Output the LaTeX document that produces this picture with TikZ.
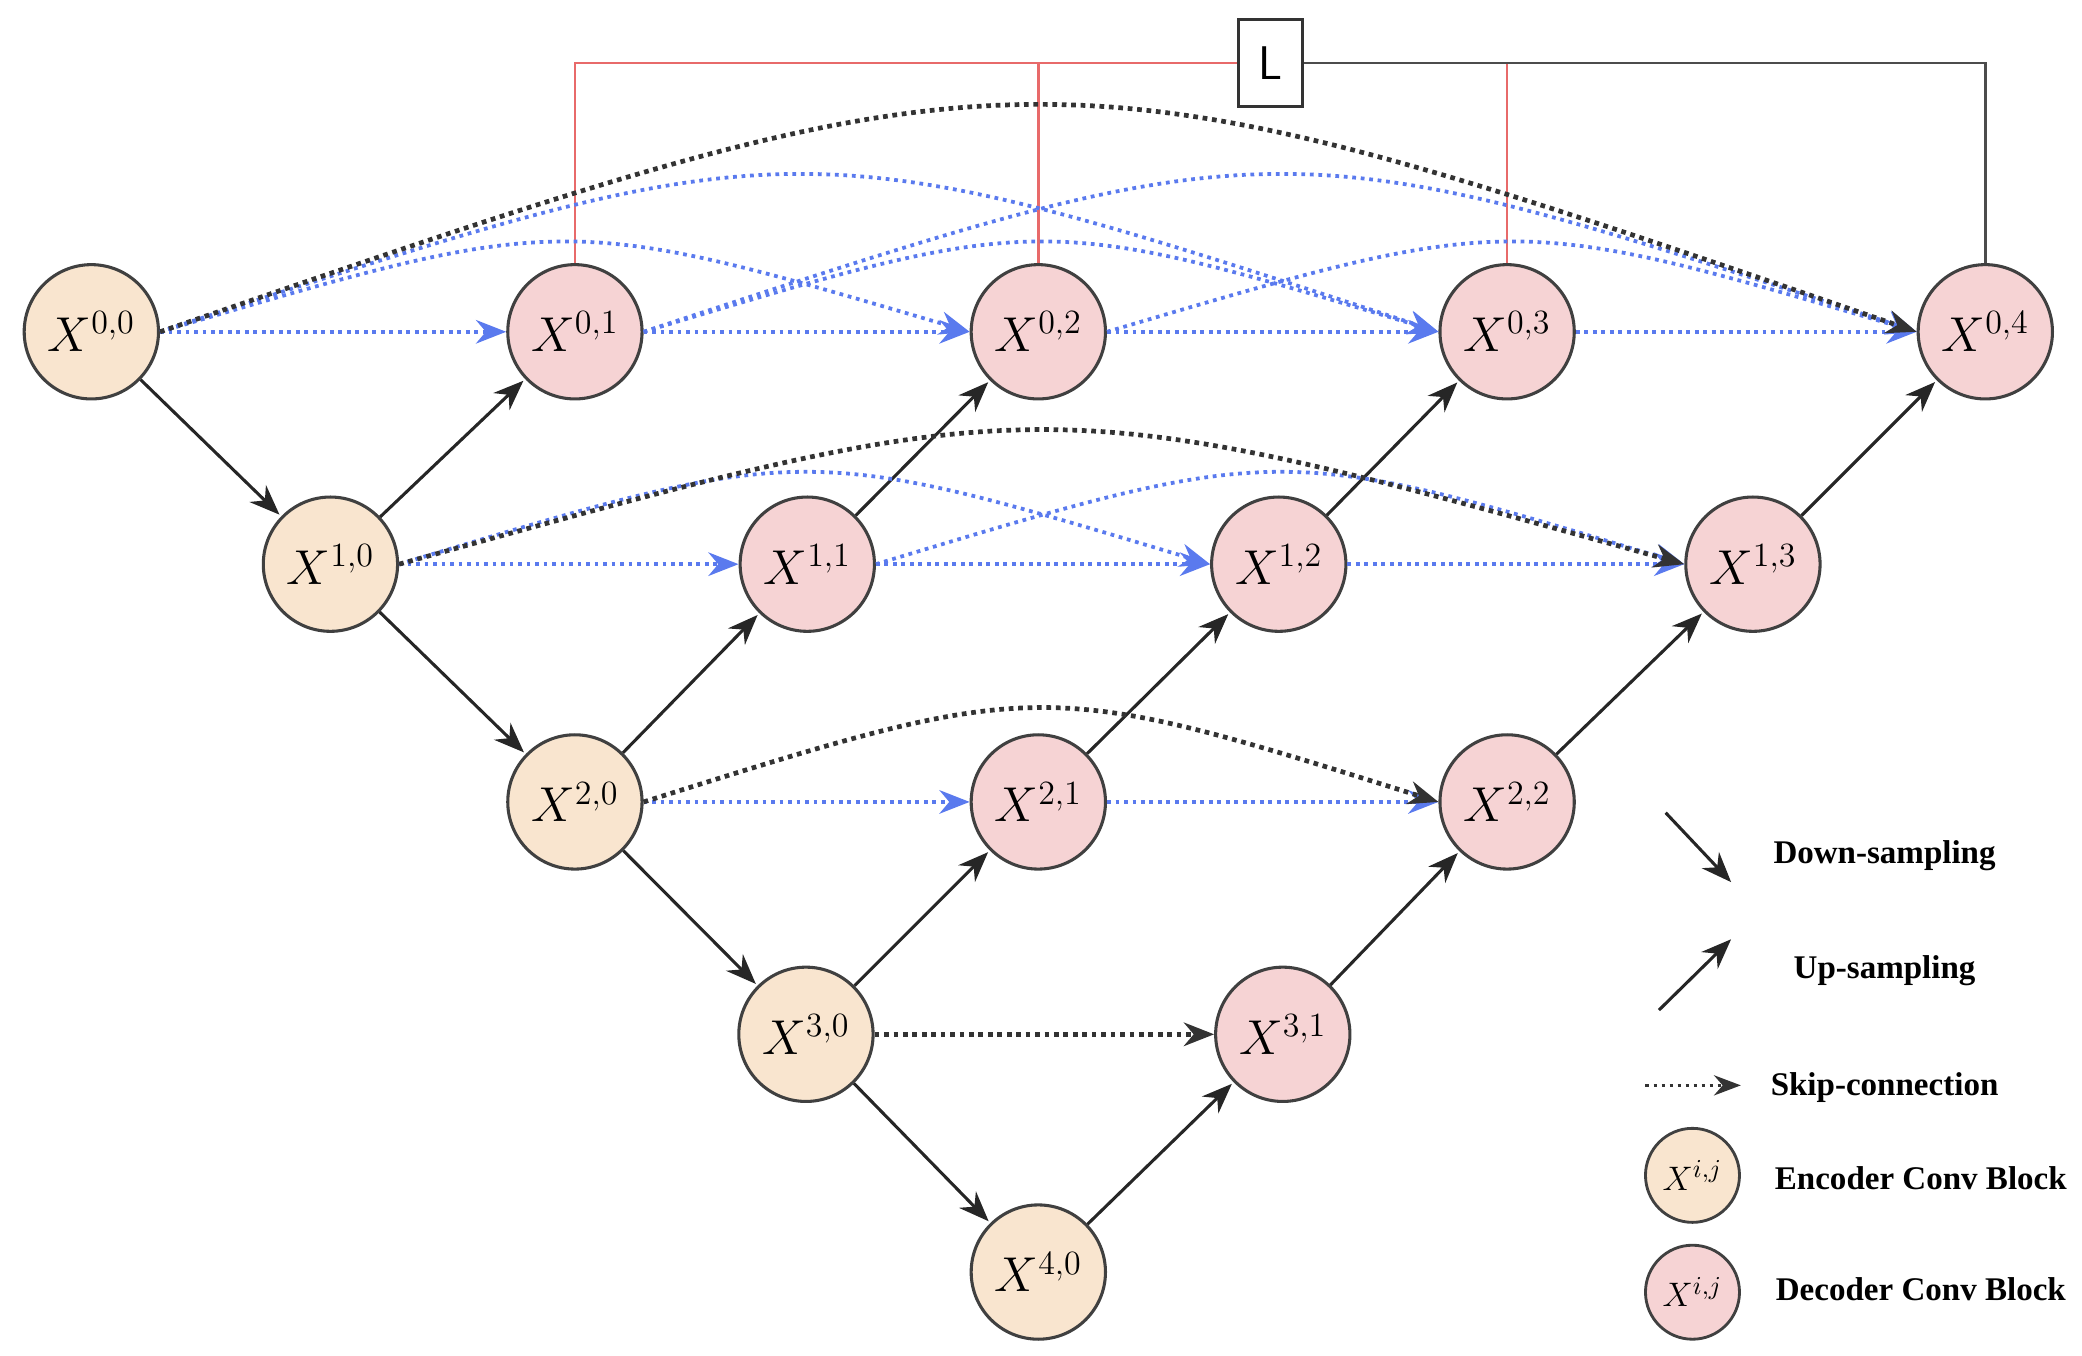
\documentclass[tikz,border=0pt]{standalone}
\usepackage{fontspec}
\setmainfont{Liberation Serif}
\usetikzlibrary{arrows.meta}
\definecolor{enc}{HTML}{F9E5CF}
\definecolor{dec}{HTML}{F6D3D4}
\definecolor{sk}{HTML}{5A7AEE}
\definecolor{rl}{HTML}{E86A6A}
\begin{document}
\begin{tikzpicture}[x=0.02cm,y=-0.02cm,
  blk/.style={circle,draw=black!75,line width=1.3pt,minimum size=2cm,inner sep=0pt,font=\fontsize{20}{24}\selectfont},
  e/.style={blk,fill=enc}, d/.style={blk,fill=dec},
  lblk/.style={circle,draw=black!75,line width=1.2pt,minimum size=1.4cm,inner sep=0pt,font=\fontsize{15}{18}\selectfont},
  samp/.style={-{Stealth[length=4.5mm,width=3.5mm]},line width=1.3pt,black!85,shorten >=1pt},
  bs/.style={-{Stealth[length=4.5mm,width=3.5mm]},sk,dotted,line width=1.6pt},
  ks/.style={-{Stealth[length=4.5mm,width=3.5mm]},black!80,dotted,line width=2pt},
  lt/.style={font=\bfseries\fontsize{14}{17}\selectfont}]
\useasboundingbox (0,0) rectangle (1550,1009);
% nodes
\node[e] (x00) at (68,247) {$X^{0,0}$};
\node[d] (x01) at (428,247) {$X^{0,1}$};
\node[d] (x02) at (773,247) {$X^{0,2}$};
\node[d] (x03) at (1122,247) {$X^{0,3}$};
\node[d] (x04) at (1478,247) {$X^{0,4}$};
\node[e] (x10) at (246,420) {$X^{1,0}$};
\node[d] (x11) at (601,420) {$X^{1,1}$};
\node[d] (x12) at (952,420) {$X^{1,2}$};
\node[d] (x13) at (1305,420) {$X^{1,3}$};
\node[e] (x20) at (428,597) {$X^{2,0}$};
\node[d] (x21) at (773,597) {$X^{2,1}$};
\node[d] (x22) at (1122,597) {$X^{2,2}$};
\node[e] (x30) at (600,770) {$X^{3,0}$};
\node[d] (x31) at (955,770) {$X^{3,1}$};
\node[e] (x40) at (773,947) {$X^{4,0}$};
% L box
\node[draw=black!80,line width=1.3pt,minimum width=0.96cm,minimum height=1.3cm,font=\sffamily\fontsize{20}{24}\selectfont] (L) at (946,47) {L};
\draw[rl,line width=1.1pt] (x01.north) |- (L.west);
\draw[rl,line width=1.1pt] (x02.north) -- (773,48);
\draw[rl,line width=1.1pt] (x03.north) -- (1122,48);
\draw[black!70,line width=1.1pt] (L.east) -| (x04.north);
% down/up sampling
\foreach \a/\b in {x00/x10,x10/x20,x20/x30,x30/x40,x10/x01,x20/x11,x11/x02,x30/x21,x21/x12,x12/x03,x40/x31,x31/x22,x22/x13,x13/x04}
  \draw[samp] (\a) -- (\b);
% straight skips
\foreach \a/\b in {x00/x01,x01/x02,x02/x03,x03/x04,x10/x11,x11/x12,x12/x13,x20/x21,x21/x22}
  \draw[bs] (\a.east) -- (\b.west);
\draw[ks] (x30.east) -- (x31.west);
% curved skips
\draw[bs] (x00.east) .. controls (420,158) .. (x02.west);
\draw[bs] (x01.east) .. controls (775,158) .. (x03.west);
\draw[bs] (x02.east) .. controls (1125,158) .. (x04.west);
\draw[bs] (x00.east) .. controls (595,91) .. (x03.west);
\draw[bs] (x01.east) .. controls (953,91) .. (x04.west);
\draw[ks] (x00.east) .. controls (773,22) .. (x04.west);
\draw[bs] (x10.east) .. controls (599,329) .. (x12.west);
\draw[bs] (x11.east) .. controls (953,329) .. (x13.west);
\draw[ks] (x10.east) .. controls (775,287) .. (x13.west);
\draw[ks] (x20.east) .. controls (775,504) .. (x22.west);
% legend
\coordinate (d1) at (1240,605); \coordinate (d2) at (1290,658);
\coordinate (u1) at (1235,752); \coordinate (u2) at (1290,698);
\coordinate (s1) at (1225,808); \coordinate (s2) at (1296,808);
\draw[samp] (d1) -- (d2);
\draw[samp] (u1) -- (u2);
\draw[-{Stealth[length=4mm,width=3mm]},black!80,dotted,line width=1.4pt] (s1) -- (s2);
\node[lt] (t1) at (1403,637) {Down-sampling};
\node[lt] (t2) at (1403,723) {Up-sampling};
\node[lt] (t3) at (1403,810) {Skip-connection};
\node[lblk,fill=enc] (le) at (1260,875) {$X^{i,j}$};
\node[lblk,fill=dec] (ld) at (1260,962) {$X^{i,j}$};
\node[lt] (t4) at (1430,877) {Encoder Conv Block};
\node[lt] (t5) at (1430,960) {Decoder Conv Block};
\end{tikzpicture}
\end{document}
